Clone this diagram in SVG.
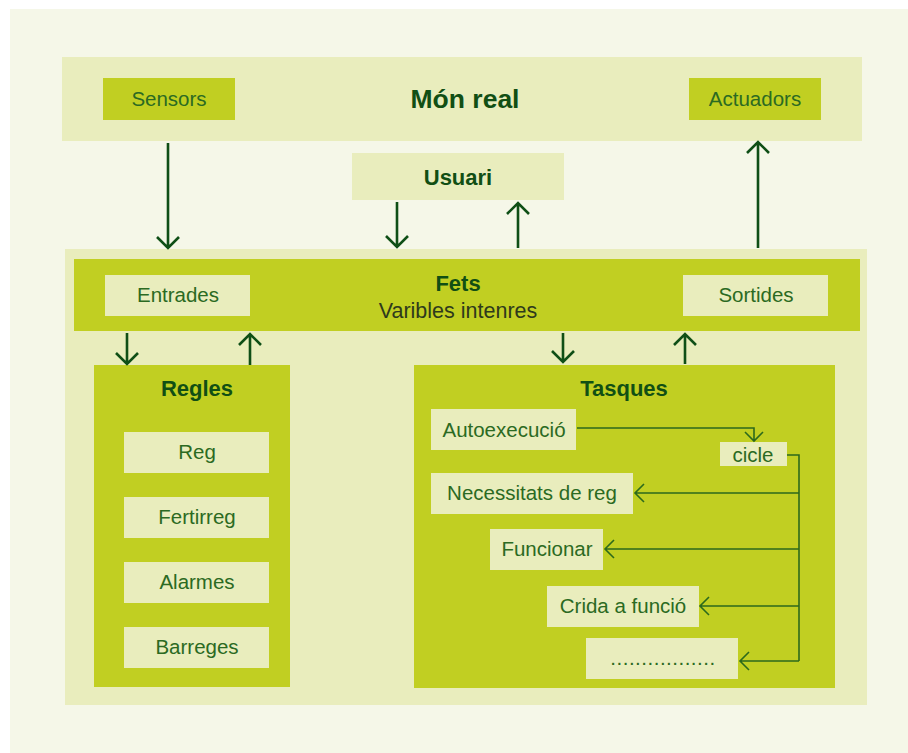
<svg xmlns="http://www.w3.org/2000/svg" width="908" height="753" viewBox="0 0 908 753">
<style>
.pale{fill:#e9edbd}
.lime{fill:#c1cf22}
.bg{fill:#f5f7e8}
.lbl{font-family:"Liberation Sans",Arial,sans-serif;font-size:20.5px;fill:#2b6a22;text-anchor:middle}
.ttl{font-family:"Liberation Sans",Arial,sans-serif;font-size:22px;font-weight:bold;fill:#114f14;text-anchor:middle}
.sub{font-family:"Liberation Sans",Arial,sans-serif;font-size:21.5px;fill:#2e3a1c;text-anchor:middle}
.thick{stroke:#0f4f16;stroke-width:2.6;fill:none}
.thin{stroke:#2d6a1c;stroke-width:1.6;fill:none}
</style>
<rect x="0" y="0" width="908" height="753" fill="#ffffff"/>
<rect class="bg" x="10" y="9" width="898" height="744"/>
<g id="mon-real">
<rect class="pale" x="62" y="57" width="800" height="84"/>
<text class="ttl" x="465" y="108" style="font-size:26.5px">Món real</text>
</g>
<g id="sensors">
<rect class="lime" x="103" y="78" width="132" height="42"/>
<text class="lbl" x="169" y="106">Sensors</text>
</g>
<g id="actuadors">
<rect class="lime" x="689" y="78" width="132" height="42"/>
<text class="lbl" x="755" y="106">Actuadors</text>
</g>
<g id="usuari">
<rect class="pale" x="352" y="153" width="212" height="47"/>
<text class="ttl" x="458" y="185">Usuari</text>
</g>
<g id="sistema">
<rect class="pale" x="65" y="249" width="802" height="456"/>
</g>
<g id="fets">
<rect class="lime" x="74" y="259" width="786" height="72"/>
<text class="ttl" x="458" y="291">Fets</text>
<text class="sub" x="458" y="318">Varibles intenres</text>
</g>
<g id="entrades">
<rect class="pale" x="105" y="275" width="145" height="41"/>
<text class="lbl" x="178" y="302">Entrades</text>
</g>
<g id="sortides">
<rect class="pale" x="683" y="275" width="145" height="41"/>
<text class="lbl" x="756" y="302">Sortides</text>
</g>
<g id="regles">
<rect class="lime" x="94" y="365" width="196" height="322"/>
<text class="ttl" x="197" y="396">Regles</text>
</g>
<g id="reg"><rect class="pale" x="124" y="432" width="145" height="41"/><text class="lbl" x="197" y="459">Reg</text></g>
<g id="fertirreg"><rect class="pale" x="124" y="497" width="145" height="41"/><text class="lbl" x="197" y="524">Fertirreg</text></g>
<g id="alarmes"><rect class="pale" x="124" y="562" width="145" height="41"/><text class="lbl" x="197" y="589">Alarmes</text></g>
<g id="barreges"><rect class="pale" x="124" y="627" width="145" height="41"/><text class="lbl" x="197" y="654">Barreges</text></g>
<g id="tasques">
<rect class="lime" x="414" y="365" width="421" height="323"/>
<text class="ttl" x="624" y="396">Tasques</text>
</g>
<g id="autoexecucio"><rect class="pale" x="431" y="409" width="145" height="41"/><text class="lbl" x="504" y="437">Autoexecució</text></g>
<g id="cicle"><rect class="pale" x="720" y="442" width="67" height="24"/><text class="lbl" x="753" y="462">cicle</text></g>
<g id="necessitats"><rect class="pale" x="431" y="473" width="202" height="41"/><text class="lbl" x="532" y="500">Necessitats de reg</text></g>
<g id="funcionar"><rect class="pale" x="490" y="529" width="113" height="41"/><text class="lbl" x="547" y="556">Funcionar</text></g>
<g id="crida"><rect class="pale" x="547" y="586" width="152" height="41"/><text class="lbl" x="623" y="613">Crida a funció</text></g>
<g id="etc"><rect class="pale" x="586" y="638" width="152" height="41"/><text class="lbl" x="663" y="665" style="letter-spacing:0.5px">.................</text></g>
<g id="connectors">
<path class="thick" d="M168 143V248M157 237L168 248L179 237"/>
<path class="thick" d="M397 202V247M386 236L397 247L408 236"/>
<path class="thick" d="M518 248V203M507 214L518 203L529 214"/>
<path class="thick" d="M758 248V142M747 153L758 142L769 153"/>
<path class="thick" d="M127 333V364M116 353L127 364L138 353"/>
<path class="thick" d="M250 365V334M239 345L250 334L261 345"/>
<path class="thick" d="M563 333V362M552 351L563 362L574 351"/>
<path class="thick" d="M685 364V334M674 345L685 334L696 345"/>
<path class="thin" d="M577 428H754V441M745 432L754 441L763 432"/>
<path class="thin" d="M787 455H799V661"/>
<path class="thin" d="M799 493H635M644 484L635 493L644 502"/>
<path class="thin" d="M799 549H605M614 540L605 549L614 558"/>
<path class="thin" d="M799 606H700M709 597L700 606L709 615"/>
<path class="thin" d="M799 661H740M749 652L740 661L749 670"/>
</g>
</svg>
